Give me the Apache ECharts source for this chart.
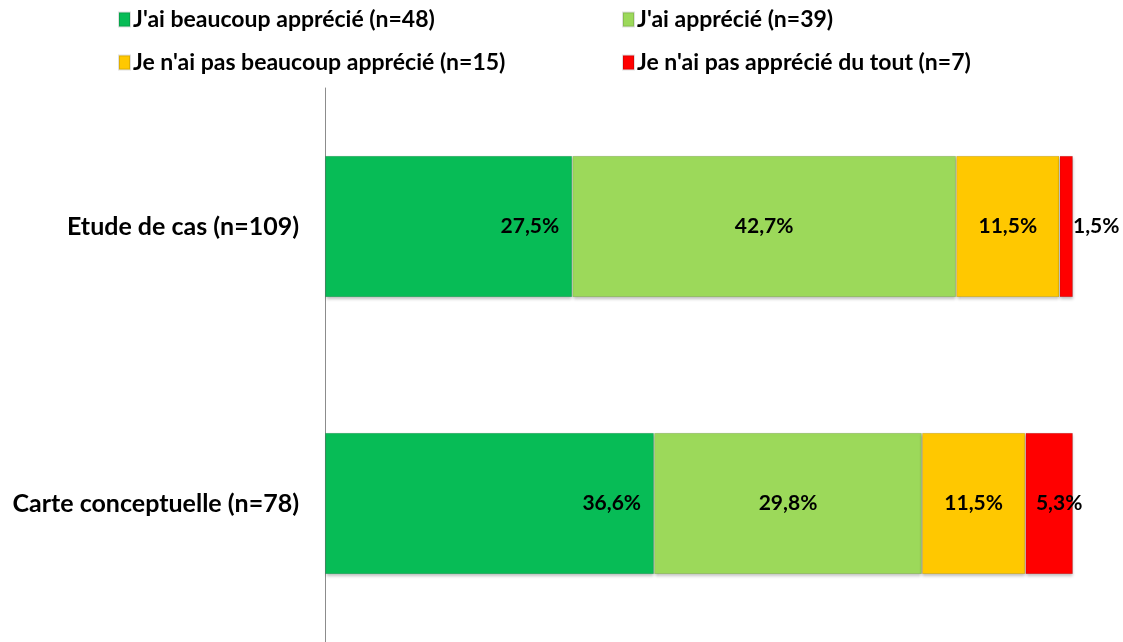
<!DOCTYPE html>
<html><head><meta charset="utf-8">
<script src="https://cdn.jsdelivr.net/npm/echarts@6/dist/echarts.min.js"></script>
<style>html,body{margin:0;padding:0;background:#fff}#c{width:1123px;height:642px}</style>
</head><body><div id="c"></div>
<script>
var categories = ['Etude de cas (n=109)', 'Carte conceptuelle (n=78)'];
var seriesNames = ["J'ai beaucoup apprécié (n=48)", "J'ai apprécié (n=39)", "Je n'ai pas beaucoup apprécié (n=15)", "Je n'ai pas apprécié du tout (n=7)"];
var beaucoup = [27.5, 36.6];
var apprecie = [42.7, 29.8];
var pasBeaucoup = [11.5, 11.5];
var pasDuTout = [1.5, 5.3];

var values = [beaucoup, apprecie, pasBeaucoup, pasDuTout];
var colors = ['#07BC56', '#9CD95A', '#FFC800', '#FF0000'];
var FONT = 'Lato';

// label placement styles (per series / per item)
var labelStyles = [
  [{position: 'insideRight', distance: 13}, {position: 'insideRight', distance: 13}],
  [{position: 'inside'}, {position: 'inside'}],
  [{position: 'inside'}, {position: 'inside'}],
  [{position: 'right', distance: 0}, {position: 'inside', offset: [10, 0]}]
];

function fmt(v) { return v.toFixed(1).replace('.', ',') + '%'; }

var series = values.map(function (arr, si) {
  return {
    name: seriesNames[si],
    type: 'bar',
    stack: 'total',
    barCategoryGap: '49%',
    itemStyle: {color: colors[si], borderColor: 'rgba(0,0,0,0.12)', borderWidth: 1,
      shadowColor: 'rgba(0,0,0,0.25)', shadowBlur: 3, shadowOffsetY: 2},
    label: {show: true, color: '#000', fontFamily: FONT, fontWeight: 'bold', fontSize: 21,
      formatter: function (p) { return fmt(p.value); }},
    data: arr.map(function (v, i) {
      return {value: v, label: labelStyles[si][i]};
    })
  };
});

var legendBase = {
  orient: 'vertical', top: 3, itemGap: 20, itemWidth: 11, itemHeight: 14,
  icon: 'rect',
  textStyle: {fontFamily: FONT, fontWeight: 'bold', fontSize: 23, color: '#000', padding: [0, 0, 0, -2]}
};

var chart = echarts.init(document.getElementById('c'));
chart.setOption({
  animation: false,
  legend: [
    Object.assign({}, legendBase, {left: 113, data: [seriesNames[0], seriesNames[2]]}),
    Object.assign({}, legendBase, {left: 617, data: [seriesNames[1], seriesNames[3]]})
  ],
  grid: {left: 325, right: 50, top: 88, bottom: -20, containLabel: false},
  xAxis: {type: 'value', min: 0, max: 83.2, show: false, splitLine: {show: false}},
  yAxis: {
    type: 'category', data: categories, inverse: true,
    axisLine: {show: true, lineStyle: {color: '#8c8c8c', width: 1}},
    axisTick: {show: false},
    axisLabel: {fontFamily: FONT, fontWeight: 'bold', fontSize: 25, color: '#000', margin: 26}
  },
  series: series
});
</script></body></html>
